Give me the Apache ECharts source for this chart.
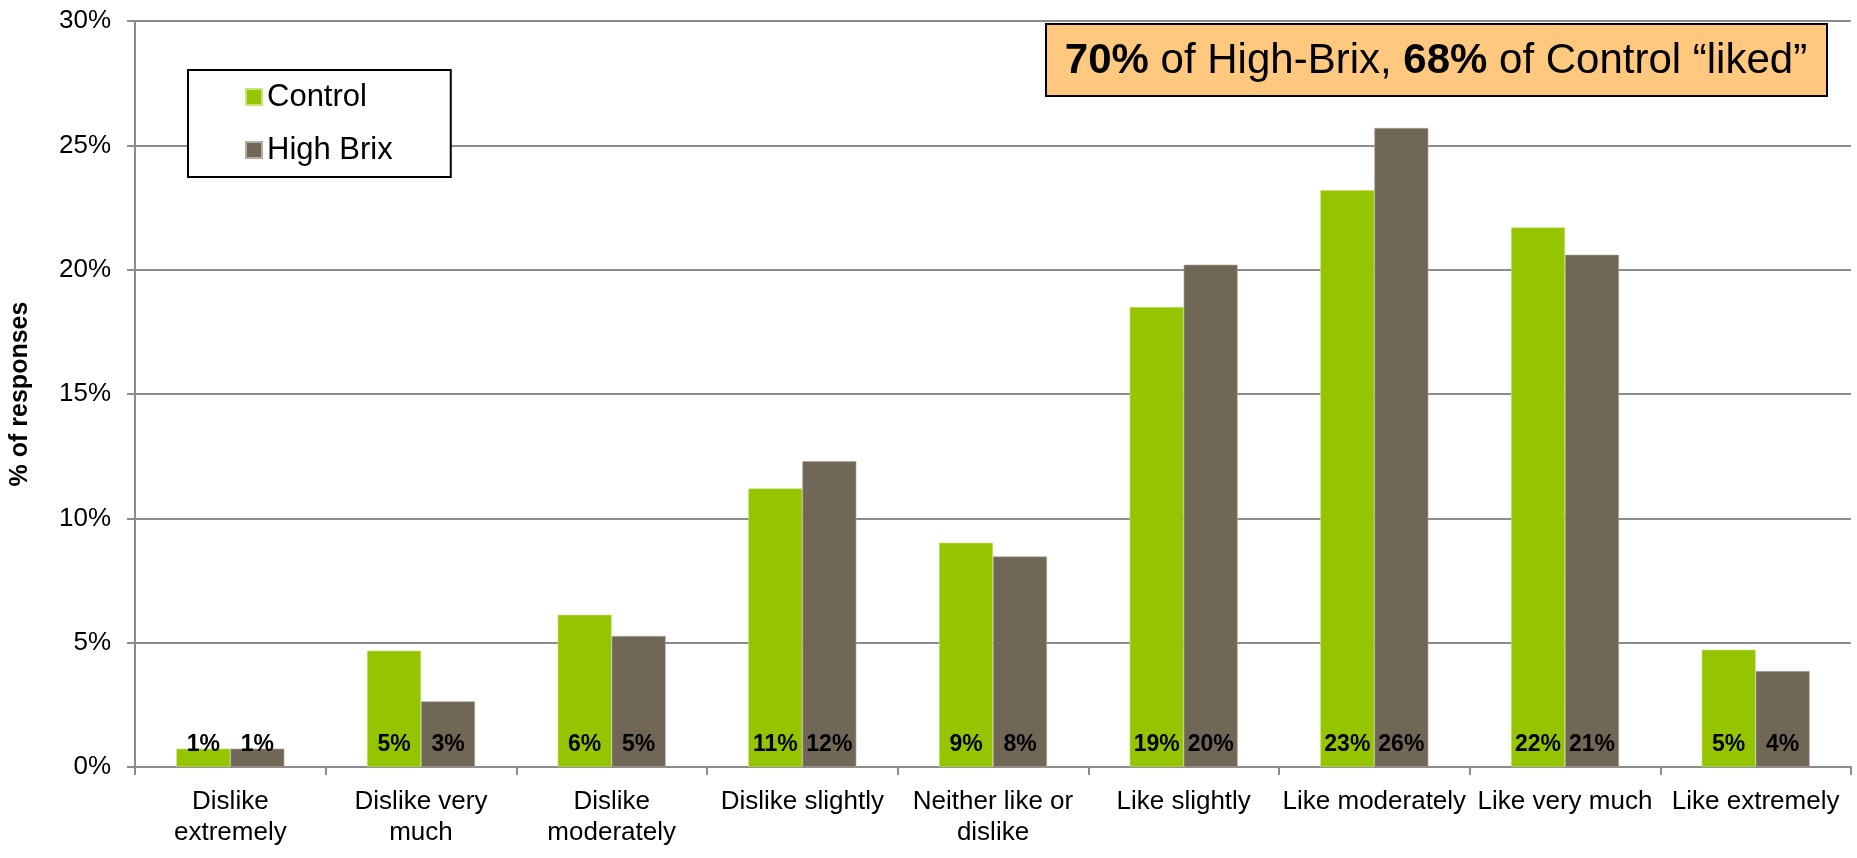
<!DOCTYPE html>
<html>
<head>
<meta charset="utf-8">
<title>Liking ratings: Control vs High Brix</title>
<script src="https://cdn.jsdelivr.net/npm/echarts@6/dist/echarts.min.js"></script>
<style>
  html, body { margin: 0; padding: 0; background: #ffffff; }
  #chart { width: 1857px; height: 858px; }
</style>
</head>
<body>
<div id="chart"></div>
<script>
// Hedonic scale categories (x axis)
const categories = [
  'Dislike\nextremely',
  'Dislike very\nmuch',
  'Dislike\nmoderately',
  'Dislike slightly',
  'Neither like or\ndislike',
  'Like slightly',
  'Like moderately',
  'Like very much',
  'Like extremely'
];

// Share of responses (%) per category
const controlValues = [0.74, 4.68, 6.12, 11.2, 9.02, 18.5, 23.2, 21.7, 4.72];
const highBrixValues = [0.74, 2.64, 5.27, 12.3, 8.47, 20.2, 25.7, 20.6, 3.86];

// Series names
const seriesNames = ['Control', 'High Brix'];

// Y axis range
const yMin = 0;
const yMax = 30;
const yStep = 5;

// Call-out text pieces
const calloutHighBrix = '70%';
const calloutControl = '68%';

const FONT = "'Liberation Sans', Arial, Helvetica, sans-serif";
const GRID_GRAY = '#8c8c8c';
const GREEN = '#95c500';
const BROWN = '#716757';

const chart = echarts.init(document.getElementById('chart'), null, { renderer: 'canvas' });

const barLabel = {
  show: true,
  position: 'insideBottom',
  distance: 11,
  color: '#000',
  fontFamily: FONT,
  fontWeight: 'bold',
  fontSize: 23,
  formatter: p => Math.round(p.value) + '%'
};

const option = {
  backgroundColor: '#ffffff',
  animation: false,
  textStyle: { fontFamily: FONT },
  grid: { left: 135, right: 6, top: 21, bottom: 91, containLabel: false },
  legend: {
    orient: 'vertical',
    left: 188,
    top: 70,
    padding: [10, 58, 10, 57],
    backgroundColor: '#ffffff',
    borderColor: '#000000',
    borderWidth: 2,
    borderRadius: 0,
    itemWidth: 16,
    itemHeight: 16,
    itemGap: 19,
    icon: 'rect',
    textStyle: { fontFamily: FONT, fontSize: 31, color: '#000', lineHeight: 34 },
    data: seriesNames
  },
  xAxis: {
    type: 'category',
    data: categories,
    boundaryGap: true,
    axisLine: { show: true, lineStyle: { color: GRID_GRAY, width: 2 } },
    axisTick: { show: true, alignWithLabel: false, length: 8, lineStyle: { color: GRID_GRAY, width: 2 } },
    axisLabel: {
      interval: 0,
      margin: 19,
      color: '#000',
      fontFamily: FONT,
      fontSize: 26,
      lineHeight: 31
    },
    splitLine: { show: false }
  },
  yAxis: {
    type: 'value',
    min: yMin,
    max: yMax,
    interval: yStep,
    name: '% of responses',
    nameLocation: 'middle',
    nameGap: 102,
    nameRotate: 90,
    nameTextStyle: { fontFamily: FONT, fontSize: 25, fontWeight: 'bold', color: '#000' },
    axisLine: { show: true, lineStyle: { color: GRID_GRAY, width: 2 } },
    axisTick: { show: true, length: 8, lineStyle: { color: GRID_GRAY, width: 2 } },
    axisLabel: {
      margin: 24,
      color: '#000',
      fontFamily: FONT,
      fontSize: 26,
      formatter: '{value}%'
    },
    splitLine: { show: true, lineStyle: { color: GRID_GRAY, width: 2 } }
  },
  series: [
    {
      name: seriesNames[0],
      type: 'bar',
      data: controlValues,
      barWidth: 54,
      barGap: '0%',
      itemStyle: { color: GREEN, borderColor: '#c9e27a', borderWidth: 0.6 },
      label: barLabel
    },
    {
      name: seriesNames[1],
      type: 'bar',
      data: highBrixValues,
      barWidth: 54,
      barGap: '0%',
      itemStyle: { color: BROWN, borderColor: '#b3aca2', borderWidth: 0.6 },
      label: barLabel
    }
  ],
  graphic: [
    {
      type: 'group',
      left: 1045,
      top: 23,
      children: [
        {
          type: 'rect',
          shape: { x: 0, y: 0, width: 781, height: 72 },
          style: { fill: '#fec87e', stroke: '#000000', lineWidth: 2 }
        },
        {
          type: 'text',
          x: 390,
          y: 37,
          style: {
            text: '{b|' + calloutHighBrix + '}{r| of High-Brix, }{b|' + calloutControl + '}{r| of Control “liked”}',
            align: 'center',
            verticalAlign: 'middle',
            rich: {
              b: { fontFamily: FONT, fontSize: 42, fontWeight: 'bold', fill: '#000' },
              r: { fontFamily: FONT, fontSize: 42, fill: '#000' }
            }
          }
        }
      ]
    }
  ]
};

chart.setOption(option);
</script>
</body>
</html>
